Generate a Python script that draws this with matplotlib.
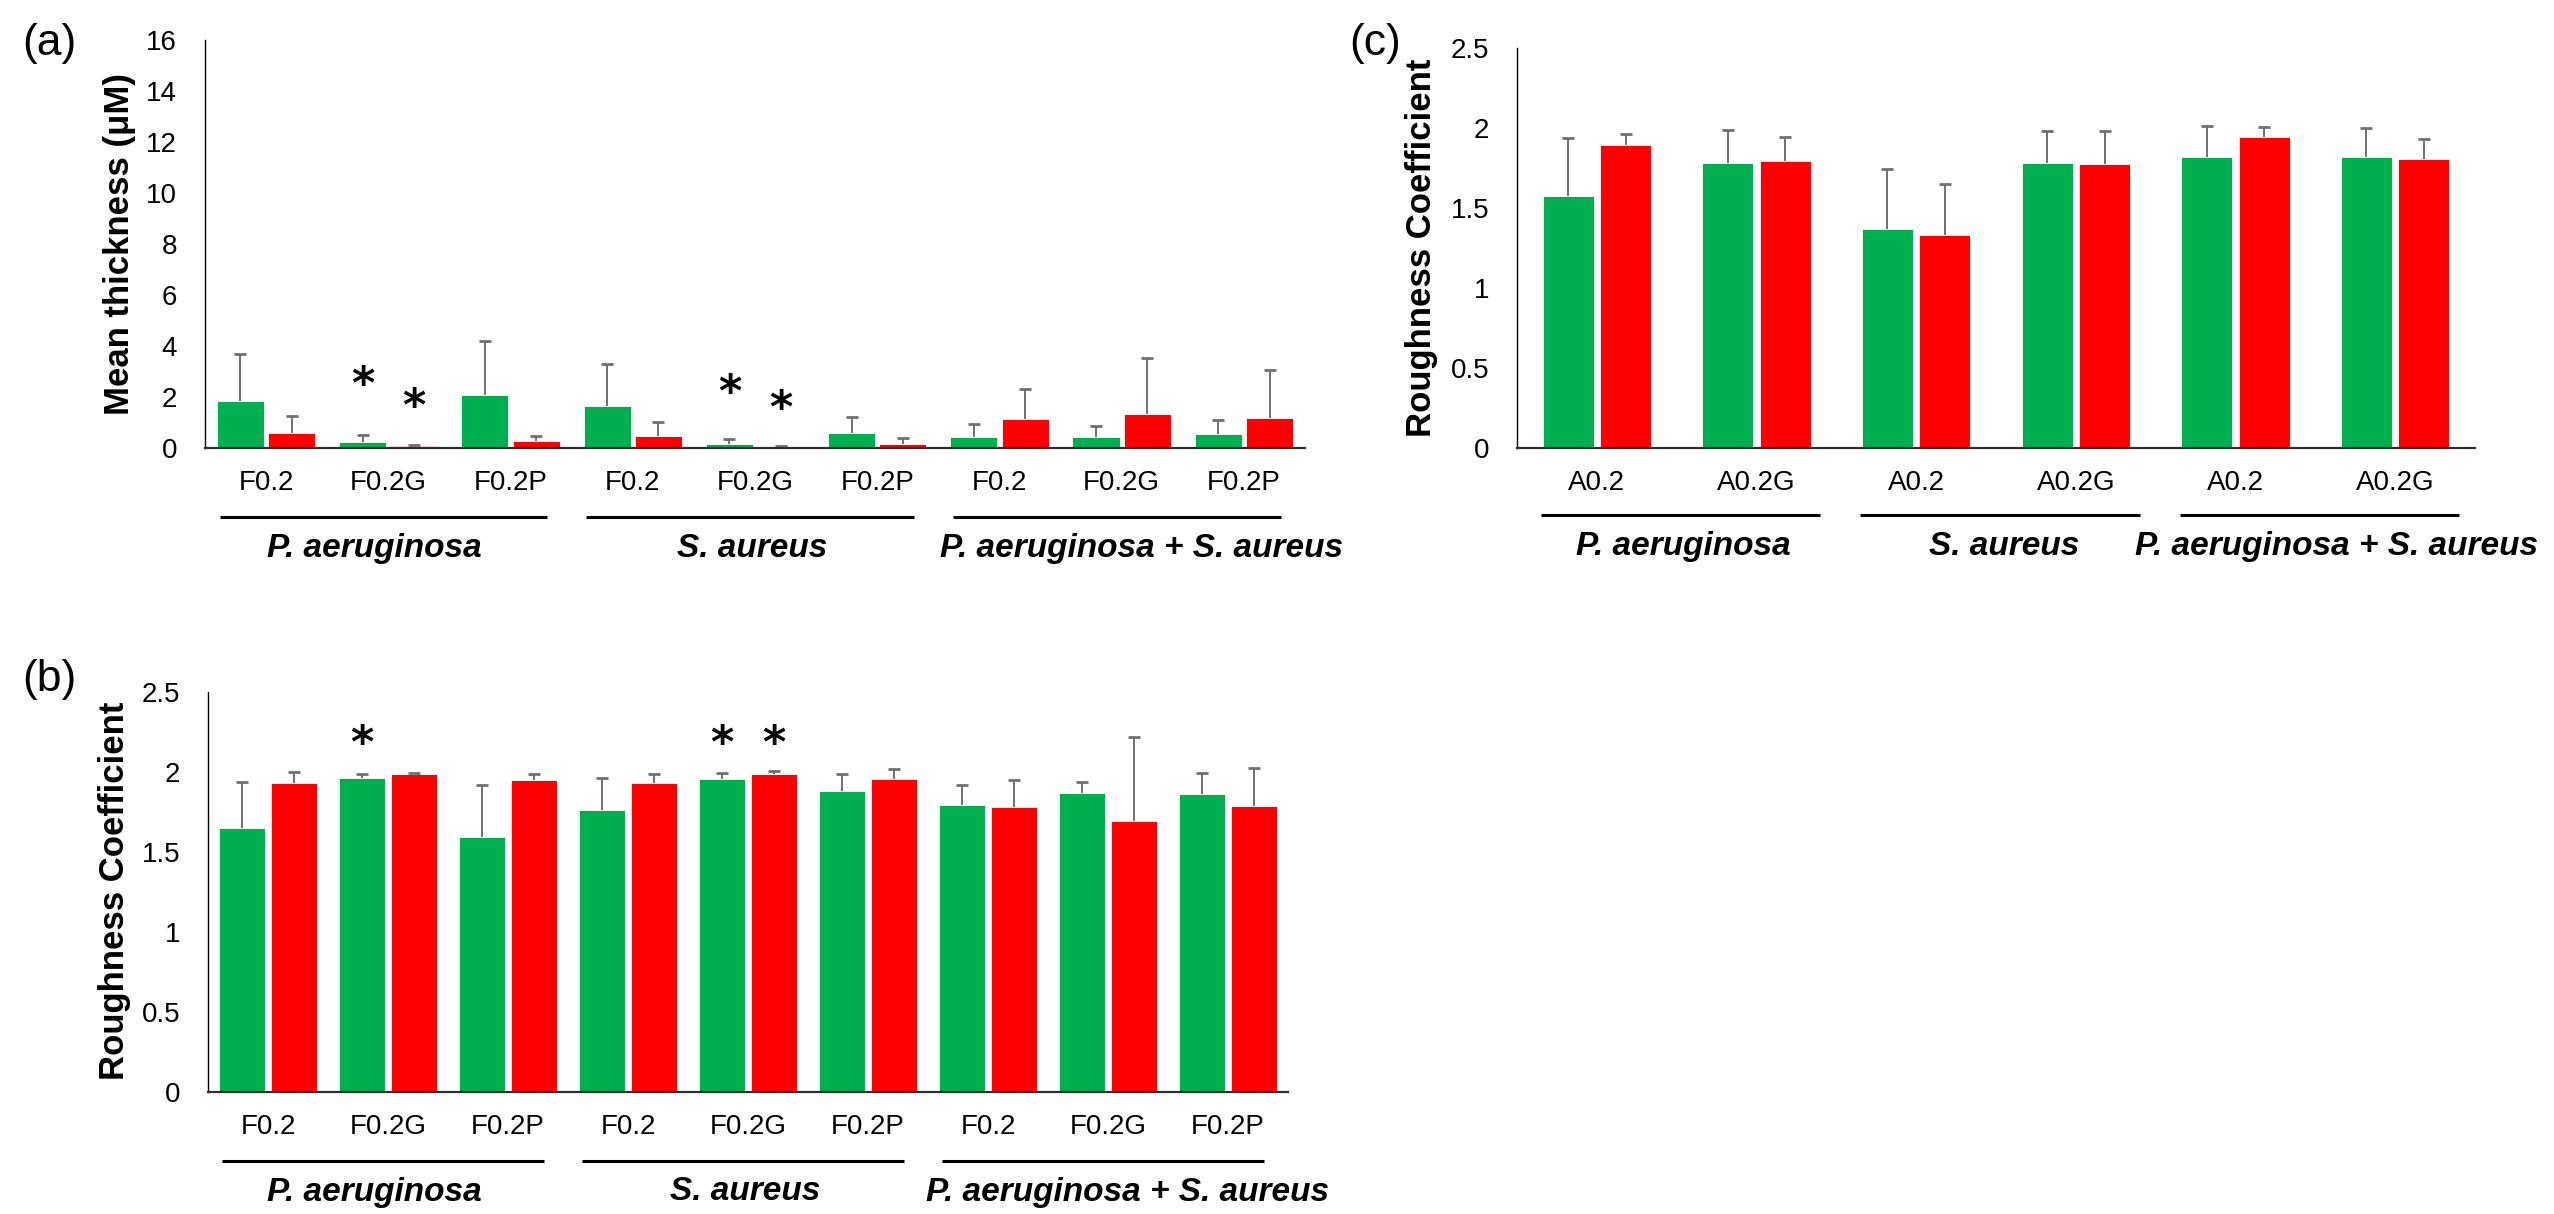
import matplotlib
matplotlib.use("Agg")
import matplotlib.pyplot as plt
import matplotlib.transforms as mtransforms
import numpy as np

# ---- data ----
groups = ["P. aeruginosa", "S. aureus", "P. aeruginosa + S. aureus"]
cats_ab = ["F0.2", "F0.2G", "F0.2P"] * 3
cats_c = ["A0.2", "A0.2G"] * 3

# (a) mean thickness
thick_green = [1.83, 0.23, 2.06, 1.63, 0.14, 0.57, 0.45, 0.42, 0.54]
thick_green_top = [3.69, 0.51, 4.18, 3.30, 0.36, 1.21, 0.94, 0.85, 1.10]
thick_red = [0.59, 0.08, 0.28, 0.46, 0.05, 0.15, 1.13, 1.33, 1.18]
thick_red_top = [1.24, 0.11, 0.48, 1.02, 0.06, 0.40, 2.32, 3.53, 3.07]
thick_ticks = [0, 2, 4, 6, 8, 10, 12, 14, 16]
# (category, series 0=green 1=red, y)
thick_stars = [(1, 0, 2.45), (1, 1, 1.6), (4, 0, 2.14), (4, 1, 1.52)]

# (b) roughness, F series
rough_green = [1.647, 1.96, 1.595, 1.765, 1.955, 1.88, 1.796, 1.87, 1.86]
rough_green_top = [1.936, 1.99, 1.917, 1.964, 1.995, 1.99, 1.917, 1.938, 1.995]
rough_red = [1.929, 1.988, 1.948, 1.931, 1.99, 1.955, 1.784, 1.694, 1.789]
rough_red_top = [1.998, 1.993, 1.99, 1.986, 2.007, 2.019, 1.948, 2.218, 2.028]
rough_stars = [(1, 0, 2.17), (4, 0, 2.17), (4, 1, 2.17)]

# (c) roughness, A series
roughA_green = [1.577, 1.779, 1.367, 1.782, 1.819, 1.819]
roughA_green_top = [1.935, 1.989, 1.742, 1.984, 2.011, 1.999]
roughA_red = [1.893, 1.794, 1.330, 1.777, 1.945, 1.809]
roughA_red_top = [1.964, 1.945, 1.653, 1.979, 2.006, 1.930]
rough_ticks = [0, 0.5, 1, 1.5, 2, 2.5]
rough_ticklabels = ["0", "0.5", "1", "1.5", "2", "2.5"]

GREEN = "#00B050"
RED = "#FF0000"
ERR = "#707070"
W, H = 2554, 1214
FONT = ["Liberation Sans", "DejaVu Sans"]


def fy(py):
    """figure fraction from pixel row (top origin)"""
    return 1 - py / H


def panel(fig, rect_px, cats, green, green_top, red, red_top, ticks, ticklabels,
          ylabel, stars, width, offset, n_per_group, line_span, label_pos,
          ylab_px, letter, letter_px, cat_y, line_y, group_y):
    l, t, r, b = rect_px
    ax = fig.add_axes([l / W, fy(b), (r - l) / W, (b - t) / H])
    x = np.arange(len(cats))
    ax.bar(x - offset, green, width, color=GREEN, edgecolor="white", lw=0.6, zorder=2)
    ax.bar(x + offset, red, width, color=RED, edgecolor="white", lw=0.6, zorder=2)
    # upper-only error bars: stem from bar top plus a cap at the end
    for xs, v, top in ((x - offset, green, green_top), (x + offset, red, red_top)):
        ax.vlines(xs, v, top, color=ERR, lw=1.4, zorder=3)
        ax.plot(xs, top, ls="none", marker="_", ms=9, mew=2.0, color=ERR, zorder=3)
    for ci, s, y in stars:
        xx = ci - offset if s == 0 else ci + offset
        ax.text(xx, y, "*", ha="center", va="center", fontsize=32,
                fontweight="bold", family="DejaVu Sans", zorder=4)
    ax.set_xlim(-0.5, len(cats) - 0.5)
    ax.set_ylim(ticks[0], ticks[-1])
    ax.set_yticks(ticks)
    ax.set_yticklabels(ticklabels, family=FONT, fontsize=20)
    ax.tick_params(axis="y", length=0, pad=20)
    ax.set_xticks([])
    for sp in ("top", "right"):
        ax.spines[sp].set_visible(False)
    ax.spines["left"].set_linewidth(1.0)
    ax.spines["bottom"].set_linewidth(1.6)
    ax.spines["bottom"].set_color("#303030")
    ax.spines["bottom"].set_zorder(5)

    trans = mtransforms.blended_transform_factory(ax.transData, fig.transFigure)
    for i, c in enumerate(cats):
        ax.text(i, fy(cat_y), c, ha="center", va="center", fontsize=20,
                family=FONT, transform=trans, clip_on=False)
    for g, name in enumerate(groups):
        x0 = g * n_per_group + line_span[0]
        x1 = g * n_per_group + line_span[1]
        ax.plot([x0, x1], [fy(line_y)] * 2, color="black", lw=2.2,
                transform=trans, clip_on=False, solid_capstyle="butt")
        ax.text(label_pos[g], fy(group_y), name, ha="center", va="center",
                fontsize=24, fontweight="bold", style="italic", family=FONT,
                transform=trans, clip_on=False)
    fig.text(ylab_px[0] / W, fy(ylab_px[1]), ylabel, rotation=90, ha="center",
             va="center", fontsize=25, fontweight="bold", family=FONT)
    fig.text(letter_px[0] / W, fy(letter_px[1]), letter, ha="center", va="center",
             fontsize=32, family=FONT)
    return ax


fig = plt.figure(figsize=(W / 100, H / 100), dpi=100)

panel(fig, (205, 40, 1305, 448), cats_ab, thick_green, thick_green_top,
      thick_red, thick_red_top, thick_ticks, [str(t) for t in thick_ticks],
      "Mean thickness (\u03bcM)", thick_stars, 0.385, 0.21, 3, (-0.38, 2.30),
      [0.885, 3.98, 7.16], (119, 244), "(a)", (49, 44), 483, 517, 549)

panel(fig, (208, 692, 1288, 1092), cats_ab, rough_green, rough_green_top,
      rough_red, rough_red_top, rough_ticks, rough_ticklabels,
      "Roughness Coefficient", rough_stars, 0.385, 0.215, 3, (-0.38, 2.30),
      [0.885, 3.98, 7.16], (115, 891), "(b)", (49, 679), 1127, 1161, 1192)

panel(fig, (1517, 48, 2475, 448), cats_c, roughA_green, roughA_green_top,
      roughA_red, roughA_red_top, rough_ticks, rough_ticklabels,
      "Roughness Coefficient", [], 0.32, 0.18, 2, (-0.35, 1.40),
      [0.54, 2.55, 4.63], (1422, 248), "(c)", (1375, 43), 483, 515, 546)

fig.savefig("out.png", dpi=100)
